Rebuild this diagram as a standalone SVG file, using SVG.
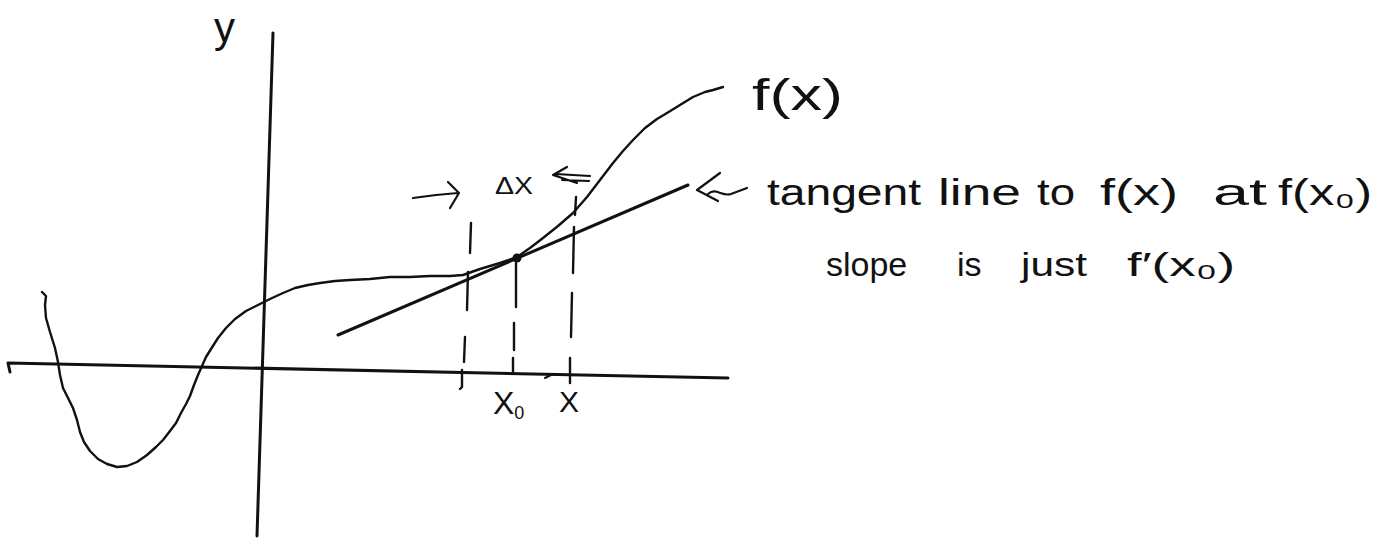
<svg xmlns="http://www.w3.org/2000/svg" width="1387" height="540" viewBox="0 0 1387 540">
<style>
.ink{fill:none;stroke:#111;stroke-linecap:round;stroke-linejoin:round}
.axis{stroke-width:3}
.crv{stroke-width:2.4}
.tan{stroke-width:3}
.dash{stroke-width:2.4}
.arr{stroke-width:2.2}
.lbl{font-family:"Liberation Sans","DejaVu Sans",sans-serif;fill:#111}
</style>
<rect width="1387" height="540" fill="#fff"/>
<g id="axes" class="ink axis">
<path d="M273,33 L257,536"/>
<path d="M10,372 L8,363 L728,378"/>
</g>
<g id="curve" class="ink crv">
<path d="M42,292 L46,296 L45,305 L46,318 L50,332 L55,348 L58,362 L60,375 L63,388 L68,398 L73,408 L77,420 L80,432 L84,442 L90,451 L98,459 L107,464 L117,467 L127,466 L137,462 L147,455 L156,447 L163,440 L170,431 L176,423 L181,413 L186,404 L190,396 L194,385 L198,375 L202,366 L206,357 L211,349 L218,338 L226,328 L235,319 L246,311 L258,305 L270,299 L283,293 L295,288 L308,285 L320,283 L335,281 L350,280 L370,279 L390,277 L410,277 L430,276 L450,276 L463,275 L480,269 L500,263 L517,257 L530,248 L543,238 L558,226 L573,213 L587,197 L600,180 L613,163 L623,151 L633,140 L645,128 L657,119 L667,113 L680,105 L693,97 L705,92 L713,90 L723,87"/>
</g>
<g id="tangent" class="ink tan">
<path d="M338,335 L688,185"/>
<circle cx="517" cy="258" r="4.5" fill="#111" stroke="none"/>
</g>
<g id="connectors" class="ink dash">
<path d="M471,223 L470,253 M468,272 L467,310 M465,337 L464,362 M462,370 L462,387 L460,389"/>
<path d="M516,263 L516,307 M514,323 L514,350 M513,358 L513,372"/>
<path d="M576,197 L575,215 M574,227 L573,273 M572,293 L571,337 M570,358 L570,383"/>
<path d="M545,378 L553,374" stroke-width="2"/>
</g>
<g id="arrows" class="ink arr">
<path d="M413,198 L436,195 L458,193 M448,182 L459,193 L450,208"/>
<path d="M567,167 L553,175 L577,183 M556,174 L590,176 M562,180 L589,181"/>
<path d="M720,173 L697,190 L718,201 M708,194 C716,187 722,197 731,194 L747,188"/>
</g>
<g id="labels" class="lbl">
<text id="ylabel" x="214" y="42" font-size="42">y</text>
<text id="fx" x="752" y="110" font-size="44" textLength="91" lengthAdjust="spacingAndGlyphs">f(x)</text>
<text id="dx" x="495" y="194" font-size="23" textLength="38" lengthAdjust="spacingAndGlyphs">ΔX</text>
<text id="x0" x="493" y="414" font-size="32">X<tspan font-size="18" dy="5">0</tspan></text>
<text id="xlab" x="559" y="412" font-size="30">X</text>
<text id="line1" y="205" font-size="36">
<tspan x="767" textLength="154" lengthAdjust="spacingAndGlyphs">tangent</tspan>
<tspan x="938" textLength="83" lengthAdjust="spacingAndGlyphs">line</tspan>
<tspan x="1037" textLength="38" lengthAdjust="spacingAndGlyphs">to</tspan>
<tspan x="1100" textLength="78" lengthAdjust="spacingAndGlyphs">f(x)</tspan>
<tspan x="1213" textLength="54" lengthAdjust="spacingAndGlyphs">at</tspan>
<tspan x="1278" textLength="94" lengthAdjust="spacingAndGlyphs">f(x₀)</tspan>
</text>
<text id="line2" y="276" font-size="34">
<tspan x="826">slope</tspan>
<tspan x="957">is</tspan>
<tspan x="1021" textLength="66" lengthAdjust="spacingAndGlyphs">just</tspan>
<tspan x="1127" textLength="108" lengthAdjust="spacingAndGlyphs">f′(x₀)</tspan>
</text>
</g>
</svg>
